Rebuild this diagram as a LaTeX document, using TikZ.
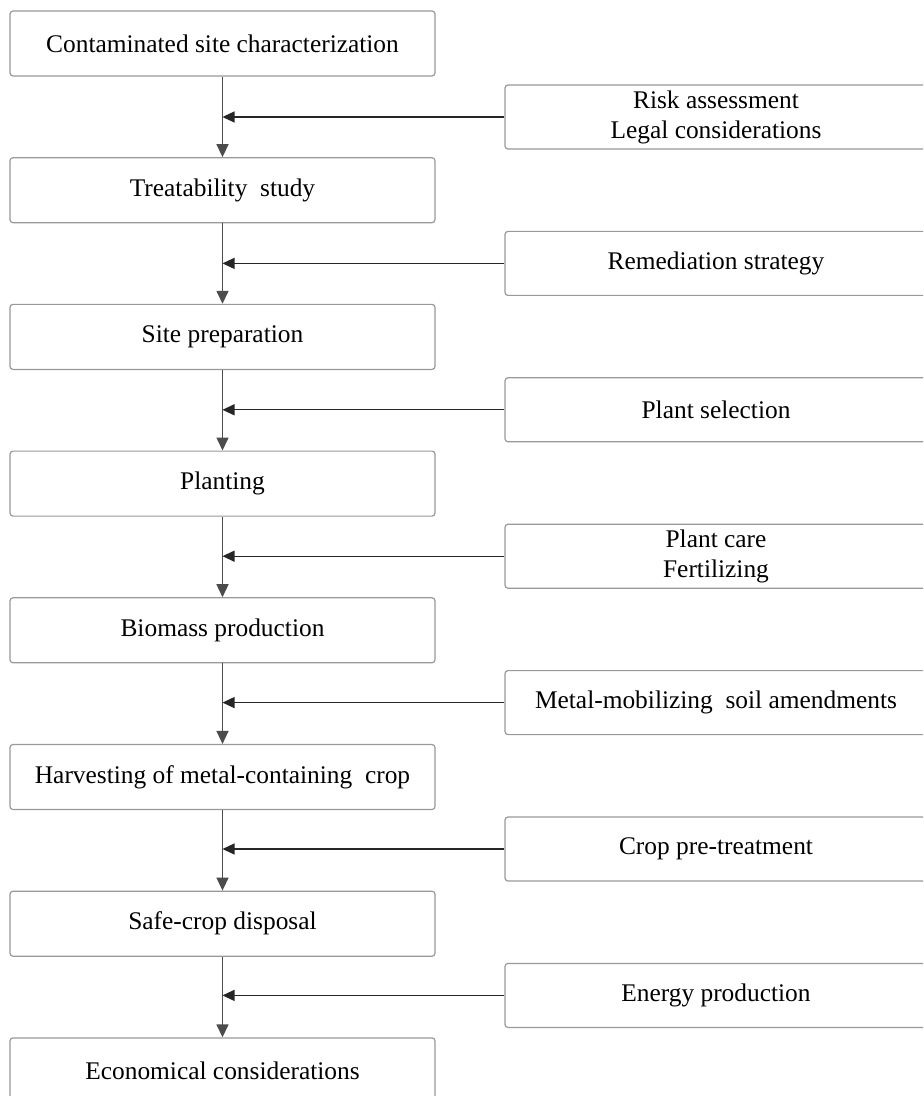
\documentclass[tikz,border=0pt]{standalone}
\usepackage{fontspec}
\setmainfont{Liberation Serif}
\usetikzlibrary{arrows.meta}

\begin{document}
\begin{tikzpicture}[
  x=0.5pt, y=-0.5pt,
  stepbox/.style={rectangle, rounded corners=1.5pt, draw=black!40, line width=0.6pt, fill=white,
                  minimum width=212.5pt, minimum height=32.5pt, inner sep=0pt,
                  font=\fontsize{12.7}{15}\selectfont, align=center},
  inbox/.style={stepbox, minimum width=211pt, minimum height=32pt},
  flow/.style={draw=black!70, line width=0.75pt, -{Triangle[length=6.5pt, width=6pt]}},
  feed/.style={draw=black!85, line width=0.6pt, -{Triangle[length=6pt, width=5.5pt]}}
]

% Page frame (right and bottom boxes run off the edge)
\clip (0,0) rectangle (923,1096);
\fill[white] (0,0) rectangle (923,1096);

% Main steps
\node[stepbox] (l1) at (222.5, 43.5) {Contaminated site characterization};
\node[stepbox] (l2) at (222.5, 190.2) {Treatability\ \ study};
\node[stepbox] (l3) at (222.5, 336.9) {Site preparation};
\node[stepbox] (l4) at (222.5, 483.6) {Planting};
\node[stepbox] (l5) at (222.5, 630.3) {Biomass production};
\node[stepbox] (l6) at (222.5, 777) {Harvesting of metal-containing\ \ crop};
\node[stepbox] (l7) at (222.5, 923.7) {Safe-crop disposal};
\node[stepbox] (l8) at (222.5, 1070.4) {Economical considerations};

% Side inputs
\node[inbox] (r1) at (716, 117) {Risk assessment\\Legal considerations};
\node[inbox] (r2) at (716, 263.4) {Remediation strategy};
\node[inbox] (r3) at (716, 409.8) {Plant selection};
\node[inbox] (r4) at (716, 556.2) {Plant care\\Fertilizing};
\node[inbox] (r5) at (716, 702.6) {Metal-mobilizing\ \ soil amendments};
\node[inbox] (r6) at (716, 849) {Crop pre-treatment};
\node[inbox] (r7) at (716, 995.4) {Energy production};

% Flow down the main column
\draw[flow] (l1) -- (l2);
\draw[flow] (l2) -- (l3);
\draw[flow] (l3) -- (l4);
\draw[flow] (l4) -- (l5);
\draw[flow] (l5) -- (l6);
\draw[flow] (l6) -- (l7);
\draw[flow] (l7) -- (l8);

% Inputs joining the column
\draw[feed] (r1.west) -- (r1.west -| l1.south);
\draw[feed] (r2.west) -- (r2.west -| l2.south);
\draw[feed] (r3.west) -- (r3.west -| l3.south);
\draw[feed] (r4.west) -- (r4.west -| l4.south);
\draw[feed] (r5.west) -- (r5.west -| l5.south);
\draw[feed] (r6.west) -- (r6.west -| l6.south);
\draw[feed] (r7.west) -- (r7.west -| l7.south);

\end{tikzpicture}
\end{document}
